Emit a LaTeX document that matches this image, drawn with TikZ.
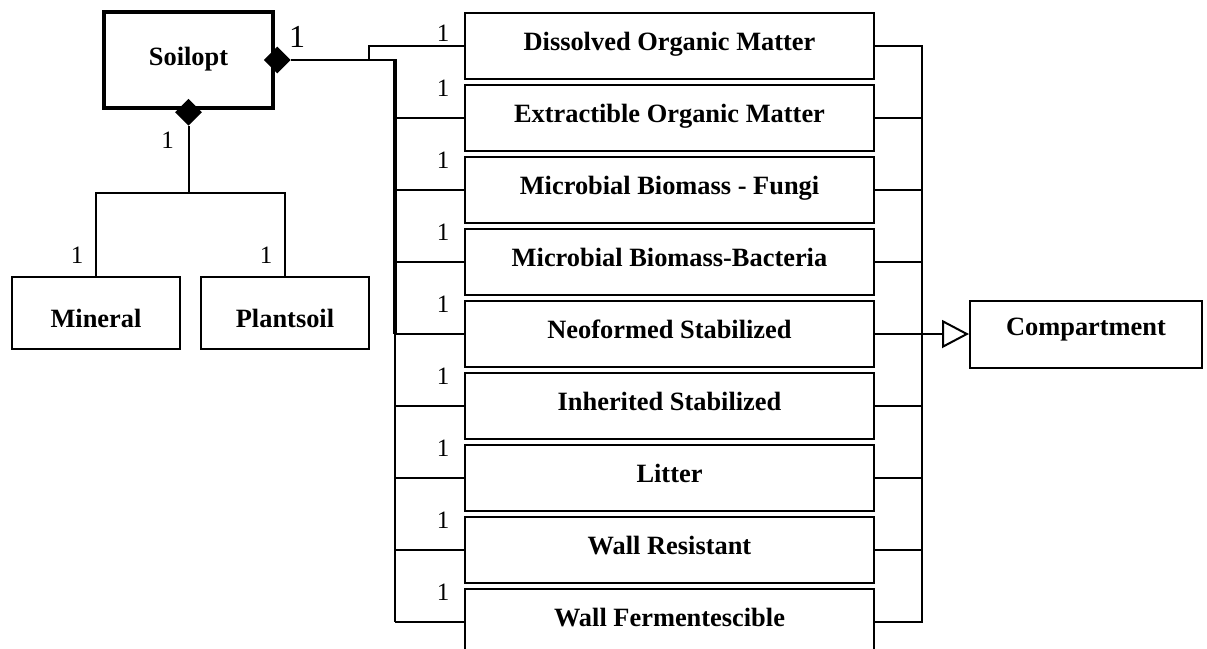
\documentclass[tikz,border=0pt]{standalone}
\usepackage{fontspec}
\setmainfont{Liberation Serif}
\usetikzlibrary{arrows.meta,shapes.geometric}

\tikzset{
  umlbox/.style={draw, line width=2pt, inner sep=0pt, font=\bfseries\fontsize{26.4}{30}\selectfont},
  pool/.style={umlbox, minimum width=409pt, minimum height=66pt, text height=18pt, text depth=10pt},
  part/.style={umlbox, minimum width=168pt, minimum height=72pt, text height=36pt, text depth=6pt},
  conn/.style={line width=2pt},
  mult/.style={inner sep=0pt, font=\fontsize{25}{28}\selectfont},
  agg/.style={diamond, fill=black, inner sep=0pt, minimum width=27pt, minimum height=27pt},
}

\begin{document}
\begin{tikzpicture}[x=1pt,y=-1pt]
    \useasboundingbox (0,0) rectangle (1207,648);

    \node[umlbox, line width=3.6pt, minimum width=169pt, minimum height=96pt, text height=20pt, text depth=10pt] (soilopt) at (188.5,60) {Soilopt};
    \node[part] (mineral) at (96,312.5) {Mineral};
    \node[part] (plantsoil) at (285,312.5) {Plantsoil};

    \node[pool] (dom) at (669.5,46) {Dissolved Organic Matter};
    \node[pool] (eom) at (669.5,118) {Extractible Organic Matter};
    \node[pool] (mbf) at (669.5,190) {Microbial Biomass - Fungi};
    \node[pool] (mbb) at (669.5,262) {Microbial Biomass-Bacteria};
    \node[pool] (neo) at (669.5,334) {Neoformed Stabilized};
    \node[pool] (inh) at (669.5,406) {Inherited Stabilized};
    \node[pool] (lit) at (669.5,478) {Litter};
    \node[pool] (wr) at (669.5,550) {Wall Resistant};
    \node[pool] (wf) at (669.5,622) {Wall Fermentescible};

    \node[umlbox, minimum width=232pt, minimum height=67pt, text height=18pt, text depth=15pt] (comp) at (1086,334) {Compartment};

    % aggregation diamonds
    \node[agg] (dR) at ([xshift=2.5pt]soilopt.east) {};
    \node[agg] (dB) at ([yshift=-2.5pt]soilopt.south) {};

    \coordinate (lbus) at (395,60);
    \coordinate (lstub) at (369,60);
    \coordinate (rbus) at (922,46);
    \coordinate (fork) at (dB.south |- 0,193);

    % Soilopt to the pools
    \draw[conn] (dR.east) -- (lbus);
    \draw[line width=3.5pt] ([yshift=1pt]lbus) -- (lbus |- neo.west);
    \draw[line width=2.6pt] (lbus |- neo.west) -- (lbus |- wf.west);
    \draw[conn] (lstub) |- (dom.west);
    \draw[conn] (lbus |- eom.west) -- (eom.west);
    \draw[conn] (lbus |- mbf.west) -- (mbf.west);
    \draw[conn] (lbus |- mbb.west) -- (mbb.west);
    \draw[conn] (lbus |- neo.west) -- (neo.west);
    \draw[conn] (lbus |- inh.west) -- (inh.west);
    \draw[conn] (lbus |- lit.west) -- (lit.west);
    \draw[conn] (lbus |- wr.west) -- (wr.west);
    \draw[conn] (lbus |- wf.west) -- (wf.west);

    % pools to Compartment
    \draw[conn] (dom.east) -- (dom.east -| rbus) -- (wf.east -| rbus) -- (wf.east);
    \draw[conn] (eom.east) -- (eom.east -| rbus);
    \draw[conn] (mbf.east) -- (mbf.east -| rbus);
    \draw[conn] (mbb.east) -- (mbb.east -| rbus);
    \draw[conn] (neo.east) -- (neo.east -| rbus);
    \draw[conn] (inh.east) -- (inh.east -| rbus);
    \draw[conn] (lit.east) -- (lit.east -| rbus);
    \draw[conn] (wr.east) -- (wr.east -| rbus);
    \draw[conn, -{Triangle[open, length=27pt, width=28pt]}] (neo.east -| rbus) -- (comp.west);

    % Soilopt to Mineral and Plantsoil
    \draw[conn] (dB.south) -- (fork);
    \draw[conn] (mineral.north) |- (fork) -| (plantsoil.north);

    % multiplicities
    \node[mult, font=\fontsize{32}{35}\selectfont] (mS) at ([xshift=6pt,yshift=23pt]dR.east) {1};
    \node[mult] (mB) at ([xshift=-21pt,yshift=-14pt]dB.south) {1};
    \node[mult] (mM) at ([xshift=-19pt,yshift=20pt]mineral.north) {1};
    \node[mult] (mP) at ([xshift=-19pt,yshift=20pt]plantsoil.north) {1};
    \node[mult] (m1) at ([xshift=-21pt,yshift=13pt]dom.west) {1};
    \node[mult] (m2) at ([xshift=-21pt,yshift=30pt]eom.west) {1};
    \node[mult] (m3) at ([xshift=-21pt,yshift=30pt]mbf.west) {1};
    \node[mult] (m4) at ([xshift=-21pt,yshift=30pt]mbb.west) {1};
    \node[mult] (m5) at ([xshift=-21pt,yshift=30pt]neo.west) {1};
    \node[mult] (m6) at ([xshift=-21pt,yshift=30pt]inh.west) {1};
    \node[mult] (m7) at ([xshift=-21pt,yshift=30pt]lit.west) {1};
    \node[mult] (m8) at ([xshift=-21pt,yshift=30pt]wr.west) {1};
    \node[mult] (m9) at ([xshift=-21pt,yshift=30pt]wf.west) {1};
\end{tikzpicture}
\end{document}
